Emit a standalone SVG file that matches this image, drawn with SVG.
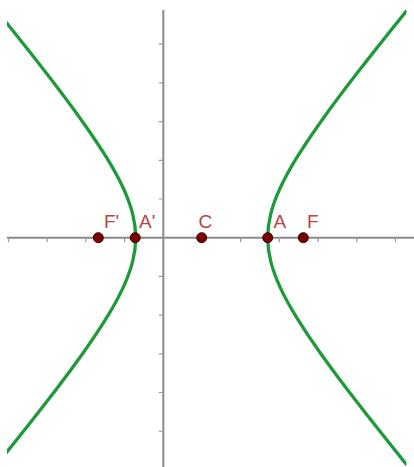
<svg xmlns="http://www.w3.org/2000/svg" width="414" height="467" viewBox="0 0 414 467">
  <style>
    .axis { stroke: #8a8a8a; stroke-width: 2; fill: none; }
    .tick { stroke: #9a9a9a; stroke-width: 1.2; fill: none; }
    .curve { stroke: #1f9a3a; stroke-width: 3.3; fill: none; stroke-linejoin: round; }
    .pt { fill: #7a0000; stroke: #3a0000; stroke-width: 1; }
    .lbl { fill: #b84444; font-family: "Liberation Sans", Arial, sans-serif; font-size: 19px; }
  </style>
  <defs>
    <clipPath id="view">
      <rect x="7" y="0" width="399.5" height="467"/>
    </clipPath>
  </defs>
  <rect width="414" height="467" fill="#ffffff"/>
  <g id="axes">
    <line class="axis" x1="7" y1="237.7" x2="414" y2="237.7"/>
    <line class="axis" x1="163.3" y1="10" x2="163.3" y2="467"/>
    <path class="tick" d="M8.5,238.7v3.5 M47.2,238.7v3.5 M85.9,238.7v3.5 M124.6,238.7v3.5 M202,238.7v3.5 M240.7,238.7v3.5 M279.4,238.7v3.5 M318.1,238.7v3.5 M356.8,238.7v3.5 M395.5,238.7v3.5"/>
    <path class="tick" d="M162.3,44.2h-3.5 M162.3,82.9h-3.5 M162.3,121.6h-3.5 M162.3,160.3h-3.5 M162.3,199h-3.5 M162.3,276.4h-3.5 M162.3,315.1h-3.5 M162.3,353.8h-3.5 M162.3,392.5h-3.5 M162.3,431.2h-3.5"/>
  </g>
  <g id="hyperbola" clip-path="url(#view)">
    <path id="branch-right" class="curve" d="M406.79,10.56 Q377.88,46.28 356.96,73.32 Q335.94,100.49 321.20,121.17 Q306.37,141.98 296.28,158.45 Q286.20,174.92 279.94,188.55 Q273.68,202.18 270.69,214.19 Q267.70,226.21 267.70,237.70 Q267.70,249.19 270.69,261.21 Q273.68,273.22 279.94,286.85 Q286.20,300.48 296.28,316.95 Q306.37,333.42 321.20,354.23 Q335.94,374.91 356.96,402.08 Q377.88,429.12 406.79,464.84"/>
    <path id="branch-left" class="curve" d="M-3.39,10.56 Q25.52,46.28 46.44,73.32 Q67.46,100.49 82.20,121.17 Q97.03,141.98 107.12,158.45 Q117.20,174.92 123.46,188.55 Q129.72,202.18 132.71,214.19 Q135.70,226.21 135.70,237.70 Q135.70,249.19 132.71,261.21 Q129.72,273.22 123.46,286.85 Q117.20,300.48 107.12,316.95 Q97.03,333.42 82.20,354.23 Q67.46,374.91 46.44,402.08 Q25.52,429.12 -3.39,464.84"/>
  </g>
  <g id="point-Fp"><circle class="pt" cx="98.3" cy="237.7" r="5"/><text class="lbl" x="104" y="227.5">F'</text></g>
  <g id="point-Ap"><circle class="pt" cx="135.2" cy="237.7" r="5"/><text class="lbl" x="139" y="227.5">A'</text></g>
  <g id="point-C"><circle class="pt" cx="201.7" cy="237.7" r="5"/><text class="lbl" x="198.5" y="227.5">C</text></g>
  <g id="point-A"><circle class="pt" cx="267.7" cy="237.7" r="5"/><text class="lbl" x="273.5" y="227.5">A</text></g>
  <g id="point-F"><circle class="pt" cx="303.3" cy="237.7" r="5"/><text class="lbl" x="307" y="227.5">F</text></g>
</svg>
